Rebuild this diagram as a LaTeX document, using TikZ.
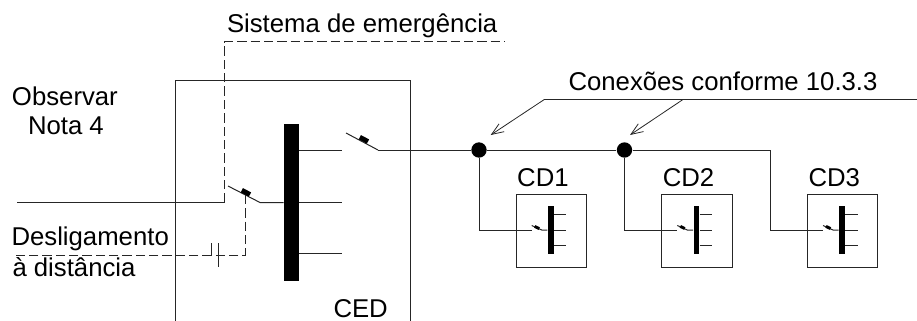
\documentclass[tikz,border=0pt]{standalone}
\usepackage{fontspec}
\setmainfont{Liberation Sans}
\usetikzlibrary{arrows.meta}

\begin{document}
\begin{tikzpicture}[x=0.75pt,y=-0.75pt,line width=0.75pt,color=black!85,
  label/.style={anchor=base west,inner sep=0pt,text=black,font=\fontsize{19.3}{19.3}\selectfont},
  busbar/.style={fill=black,draw=none,inner sep=0pt},
  panel/.style={draw,inner sep=0pt,minimum width=52.8pt,minimum height=54.8pt,anchor=north west},
  joint/.style={circle,fill=black,draw=none,inner sep=0pt,minimum size=11.5pt},
  emergency/.style={dash pattern=on 7pt off 3pt},
  leader/.style={-{Straight Barb[length=9pt,width=7pt,line width=0.6pt]},line width=0.6pt}]
\useasboundingbox (0,0) rectangle (917,321);
% Main panel
\draw (175,321) -- (175,80.5) -- (410,80.5) -- (410,321);
\node[busbar,minimum width=11pt,minimum height=117.8pt] (bar) at (291.5,202.5) {};
% Outgoing circuits of the main panel
\foreach \y in {150,202.5,253.5}
  \draw (bar.east |- 0,\y) -- (342,\y);
% Outgoing breaker
\coordinate (outa) at (346,133);
\coordinate (outb) at (378,150);
\draw (outa) -- (outb);
\draw[line width=3.6pt,black] (359.8,137.2) -- (368,141.5);
% Incoming feed and breaker
\coordinate (feed) at (17,202.5);
\coordinate (feedend) at (224.5,202.5);
\coordinate (ina) at (228,186);
\coordinate (inb) at (260,202.5);
\draw (feed) -- (feedend);
\draw (ina) -- (inb) -- (bar.west |- inb);
\draw[line width=3.6pt,black] (241.8,190.2) -- (250,194.5);
% Dashed control lines
\draw[emergency] (feedend) -- (224.5,42) -- (505,42);
\coordinate (trip) at (245,195);
\coordinate (remote) at (14,255);
\draw[emergency] (trip) -- (245,255) -- (remote);
% Battery
\draw (211,243) -- (211,255);
\draw (218.5,243) -- (218.5,266.5);
% Distribution line
\node[joint] (jointa) at (479,150) {};
\node[joint] (jointb) at (624.5,150) {};
\draw (outb) -- (jointa);
\draw (jointa) -- (jointb);
% Distribution boards
\foreach \name/\x in {1/515.7,2/661.3,3/807} {
  \node[panel] (cd\name) at (\x,193.7) {};
  \node[label] (cdtext\name) at (\x+1,186.7) {CD\name};
  \node[busbar,minimum width=4.2pt,minimum height=36pt] (cdbar\name) at (\x+35,230) {};
  \foreach \y in {214,230,245}
    \draw (cdbar\name.east |- 0,\y) -- (\x+50.5,\y);
  \coordinate (cdin\name) at (\x+16,230);
  \draw (\x+16,225.5) -- (\x+26,230) -- (cdbar\name.west |- 0,230);
  \draw[line width=2.2pt,black] (\x+19,226.4) -- (\x+23.5,228.6);
}
\draw (jointa) |- (cdin1);
\draw (jointb) |- (cdin2);
\draw (jointb) -- (770,150) |- (cdin3);
% Leaders
\coordinate (leaderend) at (917,99.5);
\coordinate (leadera) at (544.3,99.5);
\coordinate (leaderb) at (683,99.5);
\draw[line width=0.7pt] (leaderend) -- (leadera);
\draw[leader] (leadera) -- (490.7,135);
\draw[leader] (leaderb) -- (630,135);
% Texts
\node[label] (sistema) at (226.5,33) {Sistema de emergência};
\node[label] (conexoes) at (568,90) {Conexões conforme 10.3.3};
\node[label] (observar) at (11.5,105) {Observar};
\node[label] (nota) at (27.5,134) {Nota 4};
\node[label] (desligamento) at (11,245) {Desligamento};
\node[label] (distancia) at (12,276.5) {à distância};
\node[label] (ced) at (333,317) {CED};
\end{tikzpicture}
\end{document}
